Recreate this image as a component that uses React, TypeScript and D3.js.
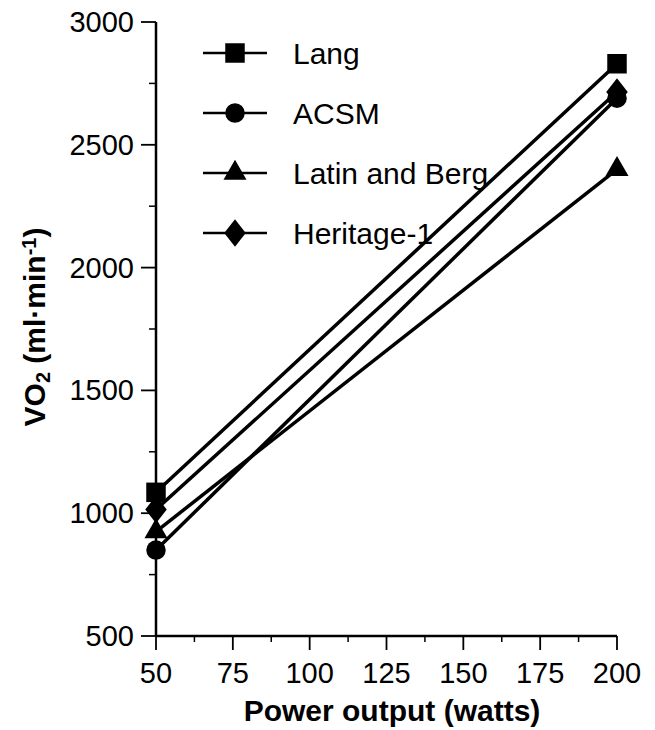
// VO2 vs power output, four prediction equations
import { useEffect, useRef } from 'react';
import * as d3 from 'd3';

const powers = [50, 200];
const seriesNames = ['Lang', 'ACSM', 'Latin and Berg', 'Heritage-1'];
const langValues = [1085, 2830];
const acsmValues = [850, 2690];
const latinBergValues = [925, 2400];
const heritageValues = [1015, 2715];
const markers = ['square', 'circle', 'triangle', 'diamond'];
const xTicks = [50, 75, 100, 125, 150, 175, 200];
const yTicks = [500, 1000, 1500, 2000, 2500, 3000];

function App() {
  const ref = useRef<SVGSVGElement>(null);
  const width = 655;
  const height = 730;

  useEffect(() => {
    const svg = d3.select(ref.current);
    svg.selectAll('*').remove();
    const font = 'Liberation Sans, Arial, Helvetica, sans-serif';

    const x = d3.scaleLinear().domain([50, 200]).range([156, 617]);
    const y = d3.scaleLinear().domain([500, 3000]).range([636, 22]);

    const allValues = [langValues, acsmValues, latinBergValues, heritageValues];

    // axes lines
    svg.append('line').attr('x1', x(50)).attr('x2', x(50)).attr('y1', y(500)).attr('y2', y(3000))
      .attr('stroke', '#000').attr('stroke-width', 2.5);
    svg.append('line').attr('x1', x(50)).attr('x2', x(200)).attr('y1', y(500)).attr('y2', y(500))
      .attr('stroke', '#000').attr('stroke-width', 2.5);

    // y ticks (major + minor)
    const yMinor = d3.range(750, 3000, 500);
    yTicks.forEach(v => {
      svg.append('line').attr('x1', x(50) - 15).attr('x2', x(50)).attr('y1', y(v)).attr('y2', y(v))
        .attr('stroke', '#000').attr('stroke-width', 1.8);
      svg.append('text').attr('x', x(50) - 22).attr('y', y(v) + 10)
        .attr('text-anchor', 'end').style('font-family', font).style('font-size', '29px')
        .text(v);
    });
    yMinor.forEach(v => {
      svg.append('line').attr('x1', x(50) - 7).attr('x2', x(50)).attr('y1', y(v)).attr('y2', y(v))
        .attr('stroke', '#000').attr('stroke-width', 1.5);
    });

    // x ticks (major + minor)
    const xMinor = d3.range(62.5, 200, 25);
    xTicks.forEach(v => {
      svg.append('line').attr('x1', x(v)).attr('x2', x(v)).attr('y1', y(500)).attr('y2', y(500) + 14)
        .attr('stroke', '#000').attr('stroke-width', 1.8);
      svg.append('text').attr('x', x(v)).attr('y', 683)
        .attr('text-anchor', 'middle').style('font-family', font).style('font-size', '29px')
        .text(v);
    });
    xMinor.forEach(v => {
      svg.append('line').attr('x1', x(v)).attr('x2', x(v)).attr('y1', y(500)).attr('y2', y(500) + 6)
        .attr('stroke', '#000').attr('stroke-width', 1.5);
    });

    // axis titles
    svg.append('text').attr('x', 392).attr('y', 721)
      .attr('text-anchor', 'middle').style('font-family', font).style('font-size', '30px')
      .style('font-weight', 'bold').text('Power output (watts)');

    const yt = svg.append('text').attr('transform', 'translate(45,327) rotate(-90)')
      .attr('text-anchor', 'middle').style('font-family', font).style('font-size', '30px')
      .style('font-weight', 'bold');
    yt.append('tspan').text('VO');
    yt.append('tspan').attr('baseline-shift', '-25%').style('font-size', '20px').text('2');
    yt.append('tspan').text(' (ml\u00B7min');
    yt.append('tspan').attr('baseline-shift', '45%').style('font-size', '20px').text('-1');
    yt.append('tspan').text(')');

    // marker drawing
    const symbolFor: Record<string, d3.SymbolType> = {
      square: d3.symbolSquare,
      circle: d3.symbolCircle,
      triangle: d3.symbolTriangle,
      diamond: d3.symbolDiamond,
    };
    const sizeFor: Record<string, number> = { square: 380, circle: 300, triangle: 230, diamond: 220 };
    function drawMarker(g: any, kind: string, cx: number, cy: number) {
      const sym = d3.symbol().type(symbolFor[kind]).size(sizeFor[kind]);
      let tr = 'translate(' + cx + ',' + cy + ')';
      if (kind === 'diamond') tr += ' scale(1.35,1)';
      g.append('path').attr('d', sym()).attr('transform', tr).attr('fill', '#000');
    }

    // lines
    const line = d3.line<number>().x((d, i) => x(powers[i])).y(d => y(d));
    allValues.forEach(vals => {
      svg.append('path').attr('d', line(vals)).attr('fill', 'none')
        .attr('stroke', '#000').attr('stroke-width', 3.5);
    });
    allValues.forEach((vals, k) => {
      vals.forEach((v, i) => drawMarker(svg, markers[k], x(powers[i]), y(v)));
    });

    // legend
    const legendY = [53, 113, 173, 233];
    seriesNames.forEach((name, k) => {
      const ly = legendY[k];
      svg.append('line').attr('x1', 203).attr('x2', 267).attr('y1', ly).attr('y2', ly)
        .attr('stroke', '#000').attr('stroke-width', 2.5);
      drawMarker(svg, markers[k], 235, ly);
      svg.append('text').attr('x', 293).attr('y', ly + 11)
        .style('font-family', font).style('font-size', '30px').text(name);
    });
  }, []);

  return (
    <svg ref={ref} width={width} height={height}
      style={{ display: 'block', position: 'absolute', left: 0, top: 0, background: '#fff' }} />
  );
}

export default App;
